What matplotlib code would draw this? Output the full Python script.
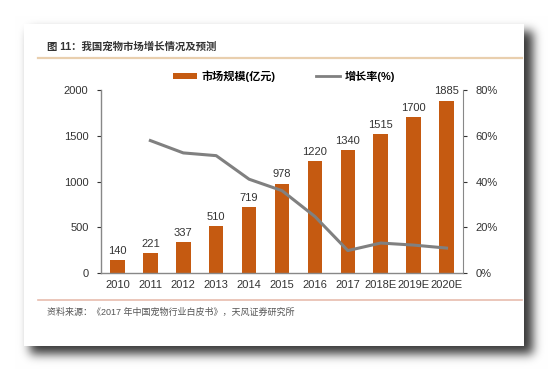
import matplotlib.pyplot as plt
import numpy as np
from matplotlib.patches import Rectangle
from matplotlib.lines import Line2D

plt.rcParams['font.family'] = ['Liberation Sans', 'Noto Sans CJK SC', 'DejaVu Sans']

years = ['2010', '2011', '2012', '2013', '2014', '2015', '2016', '2017', '2018E', '2019E', '2020E']
market_size = [140, 221, 337, 510, 719, 978, 1220, 1340, 1515, 1700, 1885]
growth_years = years[1:]
growth_rate = [57.9, 52.5, 51.3, 41.0, 36.0, 24.7, 9.8, 13.1, 12.2, 10.9]

title_text = '图 11：我国宠物市场增长情况及预测'
source_text = '资料来源：《2017 年中国宠物行业白皮书》，天风证券研究所'

W, H = 548, 370
fig = plt.figure(figsize=(W / 100, H / 100), dpi=100)

# background with drop shadow of the card
bg = fig.add_axes([0, 0, 1, 1])
bg.set_axis_off()
mask = np.zeros((H, W))
mask[31:354, 30:533] = 1.0
k = np.exp(-0.5 * (np.arange(-15, 16) / 5.0) ** 2)
k = k / k.sum()
mask = np.apply_along_axis(lambda r: np.convolve(r, k, mode='same'), 1, mask)
mask = np.apply_along_axis(lambda c: np.convolve(c, k, mode='same'), 0, mask)
shade = 1 - 0.78 * mask
img = np.dstack([shade, shade, shade])
bg.imshow(img, extent=[0, W, H, 0], aspect='auto', interpolation='bilinear')
bg.set_xlim(0, W)
bg.set_ylim(H, 0)
bg.add_patch(Rectangle((24, 24), 500, 322, facecolor='white', edgecolor='none'))
bg.plot([38, 522], [58, 58], color='#e9cfae', lw=1.6)
bg.plot([38, 522], [300, 300], color='#e8bcae', lw=1.2)
bg.text(47, 47, title_text, fontsize=7.5, color='#333333', va='center', ha='left', fontweight='bold')
bg.text(47, 312, source_text, fontsize=6.5, color='#555555', va='center', ha='left')

# main chart
ax = fig.add_axes([101 / W, 97 / H, 362 / W, 183 / H])
ax.set_facecolor('none')
x = np.arange(len(years))
bars = ax.bar(x, market_size, width=0.44, color='#c55a11', zorder=2)
for xi, v in zip(x, market_size):
    ax.text(xi, v + 45, str(v), ha='center', va='bottom', fontsize=8, color='#333333')
ax.set_xlim(-0.5, len(years) - 0.5)
ax.set_ylim(0, 2000)
ax.set_yticks([0, 500, 1000, 1500, 2000])
ax.set_xticks(x)
ax.set_xticklabels(years)
ax.tick_params(axis='x', length=0, labelsize=8, colors='#333333', pad=5)
ax.tick_params(axis='y', length=3, labelsize=8, colors='#333333', direction='out', pad=6)
for s in ['left', 'bottom']:
    ax.spines[s].set_color('#888888')
    ax.spines[s].set_linewidth(1)
ax.spines['top'].set_visible(False)
ax.spines['right'].set_visible(False)

ax2 = ax.twinx()
gx = [years.index(y) for y in growth_years]
ax2.plot(gx, growth_rate, color='#808080', lw=2.2, zorder=3)
ax2.set_ylim(0, 80)
ax2.set_yticks([0, 20, 40, 60, 80])
ax2.set_yticklabels([f'{v}%' for v in [0, 20, 40, 60, 80]])
ax2.tick_params(axis='y', length=3, labelsize=8, colors='#333333', direction='out', pad=6)
ax2.spines['right'].set_color('#888888')
ax2.spines['top'].set_visible(False)
ax2.spines['left'].set_visible(False)
ax2.spines['bottom'].set_visible(False)

handles = [Rectangle((0, 0), 1, 1, facecolor='#c55a11'),
           Line2D([0], [0], color='#808080', lw=2)]
fig.legend(handles, ['市场规模(亿元)', '增长率(%)'], loc='center', bbox_to_anchor=(284 / W, 1 - 76 / H),
           ncol=2, frameon=False, prop={'size': 8, 'weight': 'bold'}, handlelength=2.2, handleheight=0.5,
           columnspacing=3.6, handletextpad=0.4)

fig.savefig('out.png', dpi=100)
